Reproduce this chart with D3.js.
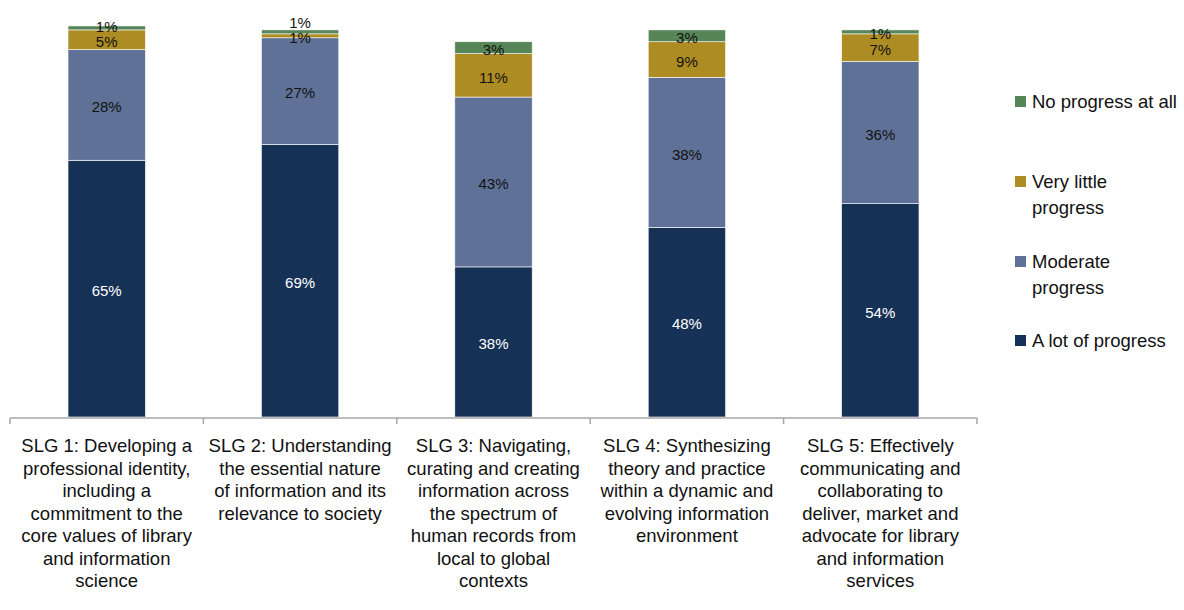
<!DOCTYPE html>
<html>
<head>
<meta charset="utf-8">
<script src="https://cdn.jsdelivr.net/npm/d3@7"></script>
<style>
  body { margin: 0; background: #fff; }
  text { font-family: "Liberation Sans", Arial, sans-serif; }
</style>
</head>
<body>
<svg id="chart" width="1184" height="610"></svg>
<script>
// category labels, already split into lines like the original
var categories = [
  ["SLG 1: Developing a", "professional identity,", "including a", "commitment to the", "core values of library", "and information", "science"],
  ["SLG 2: Understanding", "the essential nature", "of information and its", "relevance to society"],
  ["SLG 3: Navigating,", "curating and creating", "information across", "the spectrum of", "human records from", "local to global", "contexts"],
  ["SLG 4: Synthesizing", "theory and practice", "within a dynamic and", "evolving information", "environment"],
  ["SLG 5: Effectively", "communicating and", "collaborating to", "deliver, market and", "advocate for library", "and information", "services"]
];
var seriesNames = ["A lot of progress", "Moderate progress", "Very little progress", "No progress at all"];
var aLot       = [65, 69, 38, 48, 54];
var moderate   = [28, 27, 43, 38, 36];
var veryLittle = [5, 1, 11, 9, 7];
var noProgress = [1, 1, 3, 3, 1];

var colors = ["#163156", "#5f7196", "#ae8c24", "#568557"];
var legendLines = [["No progress at all"], ["Very little", "progress"], ["Moderate", "progress"], ["A lot of progress"]];

var svg = d3.select("#chart");
var x = d3.scaleBand().domain(d3.range(categories.length)).range([10, 977]).paddingInner(0).paddingOuter(0);
var y = d3.scaleLinear().domain([0, 100]).range([417, 22]);
var barW = x.bandwidth() * 0.4;

var rows = categories.map(function (c, i) {
  return {i: i, "A lot of progress": aLot[i], "Moderate progress": moderate[i],
          "Very little progress": veryLittle[i], "No progress at all": noProgress[i]};
});
var stacked = d3.stack().keys(seriesNames)(rows);

var g = svg.append("g");
stacked.forEach(function (layer, k) {
  g.selectAll(".s" + k)
    .data(layer)
    .enter().append("rect")
    .attr("x", function (d) { return x(d.data.i) + (x.bandwidth() - barW) / 2; })
    .attr("y", function (d) { return y(d[1]); })
    .attr("width", barW)
    .attr("height", function (d) { return y(d[0]) - y(d[1]); })
    .attr("fill", colors[k])
    .attr("stroke", "#fff")
    .attr("stroke-width", 0.6);
});

// value labels, pushed up when they would overlap the one below
categories.forEach(function (c, i) {
  var prev = null;
  stacked.forEach(function (layer, k) {
    var d = layer[i];
    var cy = (y(d[0]) + y(d[1])) / 2 + 2;
    if (prev !== null && prev - cy < 15) cy = prev - 15;
    prev = cy;
    g.append("text")
      .attr("x", x(i) + x.bandwidth() / 2)
      .attr("y", cy)
      .attr("dy", "0.35em")
      .attr("text-anchor", "middle")
      .attr("font-size", 15)
      .attr("fill", k === 0 ? "#fff" : "#111")
      .text((d[1] - d[0]) + "%");
  });
});

// axis
var axisG = svg.append("g").attr("transform", "translate(0,418)");
axisG.append("line").attr("x1", 10).attr("x2", 977).attr("stroke", "#a6a6a6").attr("stroke-width", 1.5);
axisG.selectAll(".tick")
  .data(d3.range(categories.length + 1))
  .enter().append("line")
  .attr("x1", function (d) { return 10 + d * x.bandwidth(); })
  .attr("x2", function (d) { return 10 + d * x.bandwidth(); })
  .attr("y1", 0).attr("y2", 6)
  .attr("stroke", "#a6a6a6").attr("stroke-width", 1.5);

categories.forEach(function (lines, i) {
  var t = svg.append("text")
    .attr("text-anchor", "middle")
    .attr("font-size", 18.5)
    .attr("fill", "#111");
  lines.forEach(function (l, j) {
    t.append("tspan").attr("x", x(i) + x.bandwidth() / 2).attr("y", 452 + j * 22.5).text(l);
  });
});

// legend (top to bottom is reverse stack order)
var legendY = [102, 182, 262, 341];
legendLines.forEach(function (lines, j) {
  var k = 3 - j;
  svg.append("rect")
    .attr("x", 1015).attr("y", legendY[j] - 6)
    .attr("width", 11).attr("height", 11)
    .attr("fill", colors[k]);
  var t = svg.append("text").attr("font-size", 18.5).attr("fill", "#111");
  lines.forEach(function (l, m) {
    t.append("tspan").attr("x", 1032).attr("y", legendY[j] + 6 + m * 26).text(l);
  });
});
</script>
</body>
</html>
